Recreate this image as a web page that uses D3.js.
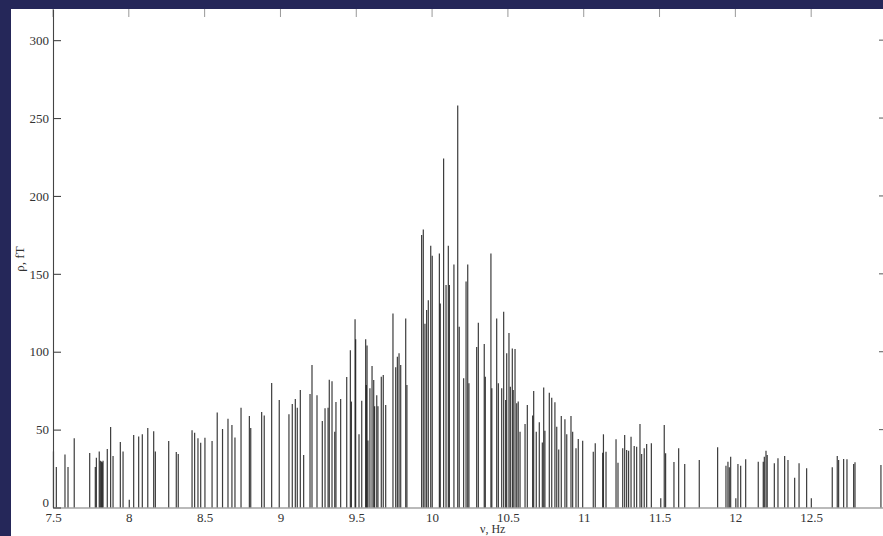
<!DOCTYPE html>
<html>
<head>
<meta charset="utf-8">
<script src="https://cdn.jsdelivr.net/npm/d3@7"></script>
<style>
  html, body { margin: 0; padding: 0; background: #ffffff; }
  svg { display: block; }
</style>
</head>
<body>
<svg id="chart" width="883" height="536"></svg>
<script>
// Spectrum lines: frequency (Hz) and amplitude (fT)
const freqs = [
  7.503, 7.522, 7.579, 7.599, 7.640, 7.742, 7.779, 7.786, 7.805, 7.812,
  7.819, 7.825, 7.830, 7.858, 7.880, 7.896, 7.944, 7.962, 8.003, 8.032,
  8.065, 8.089, 8.125, 8.164, 8.175, 8.263, 8.313, 8.326, 8.417, 8.434,
  8.456, 8.474, 8.502, 8.549, 8.583, 8.618, 8.654, 8.680, 8.700, 8.740,
  8.795, 8.804, 8.876, 8.893, 8.942, 8.992, 9.056, 9.078, 9.098, 9.111,
  9.131, 9.153, 9.195, 9.208, 9.241, 9.276, 9.294, 9.314, 9.322, 9.340,
  9.358, 9.366, 9.397, 9.437, 9.461, 9.468, 9.492, 9.496, 9.518, 9.536,
  9.562, 9.571, 9.566, 9.577, 9.590, 9.604, 9.615, 9.621, 9.635, 9.643,
  9.665, 9.678, 9.694, 9.742, 9.760, 9.771, 9.782, 9.793, 9.826, 9.834,
  9.931, 9.942, 9.953, 9.964, 9.975, 9.991, 10.001, 10.048, 10.054, 10.076,
  10.092, 10.107, 10.114, 10.144, 10.169, 10.179, 10.208, 10.224, 10.235, 10.243,
  10.294, 10.305, 10.344, 10.351, 10.388, 10.394, 10.426, 10.437, 10.459, 10.472,
  10.485, 10.492, 10.507, 10.516, 10.529, 10.535, 10.547, 10.558, 10.568, 10.580,
  10.613, 10.628, 10.663, 10.670, 10.687, 10.707, 10.727, 10.736, 10.744, 10.773,
  10.789, 10.810, 10.822, 10.835, 10.852, 10.876, 10.888, 10.916, 10.927, 10.949,
  10.964, 10.993, 11.063, 11.076, 11.125, 11.130, 11.147, 11.213, 11.226, 11.257,
  11.270, 11.283, 11.296, 11.312, 11.333, 11.349, 11.371, 11.382, 11.399, 11.415,
  11.446, 11.508, 11.531, 11.540, 11.595, 11.626, 11.666, 11.762, 11.883, 11.938,
  11.951, 11.960, 11.969, 12.003, 12.017, 12.035, 12.068, 12.151, 12.184, 12.191,
  12.202, 12.210, 12.257, 12.281, 12.325, 12.347, 12.391, 12.420, 12.470, 12.501,
  12.639, 12.672, 12.681, 12.714, 12.736, 12.780, 12.789, 12.960
];
const amps = [
  36, 26, 34, 26, 44.5, 35, 26, 32, 36, 30,
  29.5, 29, 30, 37.5, 51.6, 33, 42, 36, 5, 46.5,
  45.5, 47, 51, 49, 36, 42.7, 35.6, 34.3, 49.6, 48,
  44.5, 41.6, 44.8, 42.7, 61, 50.4, 57, 53, 45, 64,
  58.7, 51, 61.3, 59, 80, 69, 59.8, 66.4, 69.6, 64,
  75.4, 33.7, 72.8, 91.5, 72, 55.5, 63.7, 64, 82, 81,
  48.7, 67.7, 69.6, 83.8, 101, 68, 120.8, 108, 47, 68.6,
  108, 104, 78.6, 43, 76.5, 90.8, 81.8, 65, 72, 65,
  84, 85, 65.8, 124.6, 90, 96.8, 99, 91.5, 121.4, 78.6,
  175, 178.5, 118, 126.8, 133, 168, 161.6, 163, 131, 224,
  142.8, 168, 142.8, 156, 258, 116, 83, 145, 156, 79.7,
  103, 118.6, 105, 84, 163, 76.5, 121.4, 79.7, 76.5, 125.7,
  69, 99, 112, 77.5, 102, 75.4, 101.7, 67, 68, 48.7,
  53.6, 65.8, 59, 74.8, 48.7, 54.7, 41.8, 77, 49.3, 73.7,
  70.5, 67.5, 51.9, 37.3, 58.7, 56.6, 47, 58.7, 48.7, 38,
  44, 42.9, 35.8, 41.2, 35.2, 47, 35.8, 43.8, 28.8, 38,
  46.5, 36.9, 36.5, 45.4, 39.5, 39, 53.6, 34.3, 38, 40.8,
  41.2, 5.9, 53, 34.8, 29.2, 38, 27.9, 30.5, 38.6, 26.8,
  29.4, 25.8, 32.6, 5.9, 27.9, 26.8, 30.9, 29.4, 29.4, 32.6,
  36.5, 33.7, 28.4, 31.6, 33, 30.5, 19.1, 28.4, 25.2, 5.9,
  25.8, 33, 30.5, 31.1, 30.9, 27.9, 29, 27.3
];

// labelled ticks along the frequency axis; tick marks on the top edge
const xTickLabels = [7.5, 8, 8.5, 9, 9.5, 10, 10.5, 11, 11.5, 12, 12.5];
const xTickMarks = [7.5, 8, 8.5, 9, 9.5, 10, 10.5, 11, 11.5, 12, 12.5, 13];
const yTicks = [0, 50, 100, 150, 200, 250, 300];
const xTitle = "ν, Hz";
const yTitle = "ρ, fT";

const svg = d3.select("#chart");
const W = 883, H = 536;
const serif = '"Liberation Serif", "DejaVu Serif", serif';

// page frame
svg.append("rect").attr("width", W).attr("height", H).attr("fill", "#252759");
svg.append("rect").attr("x", 11).attr("y", 9).attr("width", W - 11).attr("height", H - 9).attr("fill", "#ffffff");

const x = d3.scaleLinear().domain([7.5, 13]).range([53, 887]);
const y = d3.scaleLinear().domain([0, 320]).range([507.5, 9]);

// spectral lines
const lines = freqs.map((f, i) => ({ f, a: amps[i] }));
svg.append("g")
  .selectAll("line")
  .data(lines)
  .join("line")
  .attr("x1", d => x(d.f))
  .attr("x2", d => x(d.f))
  .attr("y1", y(0))
  .attr("y2", d => y(d.a))
  .attr("stroke", "#111")
  .attr("stroke-opacity", 0.82)
  .attr("stroke-width", 1.2);

// bottom axis
const xAxis = svg.append("g")
  .attr("transform", `translate(0,${y(0)})`)
  .call(d3.axisBottom(x).tickValues(xTickLabels).tickFormat(d3.format("")).tickSize(0).tickPadding(5));
xAxis.select(".domain").attr("stroke", "#777").attr("stroke-width", 1.2);
xAxis.selectAll(".tick text").attr("fill", "#333").attr("font-size", 13).attr("font-family", serif);

// inward tick marks on the top edge
svg.append("g").attr("stroke", "#999").attr("stroke-width", 1)
  .selectAll("line").data(xTickMarks).join("line")
  .attr("x1", d => x(d)).attr("x2", d => x(d))
  .attr("y1", y(320)).attr("y2", y(320) + 8);

// left axis
const yAxis = svg.append("g")
  .attr("transform", `translate(${x(7.5)},0)`)
  .call(d3.axisLeft(y).tickValues(yTicks).tickSize(0).tickPadding(4));
yAxis.select(".domain").attr("stroke", "#444").attr("stroke-width", 1.1);
yAxis.selectAll(".tick text").attr("fill", "#333").attr("font-size", 13).attr("font-family", serif);
// lift the zero label clear of the first frequency label
yAxis.selectAll(".tick text").filter(d => d === 0).attr("dy", "-0.05em");
yAxis.selectAll(".tick").append("line")
  .attr("x1", 0).attr("x2", 8).attr("stroke", "#444").attr("stroke-width", 1.1);

// right edge ticks
svg.append("g").selectAll("line").data(yTicks.filter(d => d > 0)).join("line")
  .attr("x1", x(13) - 8).attr("x2", x(13))
  .attr("y1", d => y(d)).attr("y2", d => y(d))
  .attr("stroke", "#666").attr("stroke-width", 1.1);

// axis titles
svg.append("text")
  .attr("x", x(10.4)).attr("y", 533)
  .attr("text-anchor", "middle")
  .attr("font-family", serif).attr("font-size", 12).attr("fill", "#333")
  .text(xTitle);

svg.append("text")
  .attr("transform", `translate(24,259) rotate(-90)`)
  .attr("text-anchor", "middle")
  .attr("font-family", serif).attr("font-size", 13).attr("fill", "#333")
  .text(yTitle);
</script>
</body>
</html>
